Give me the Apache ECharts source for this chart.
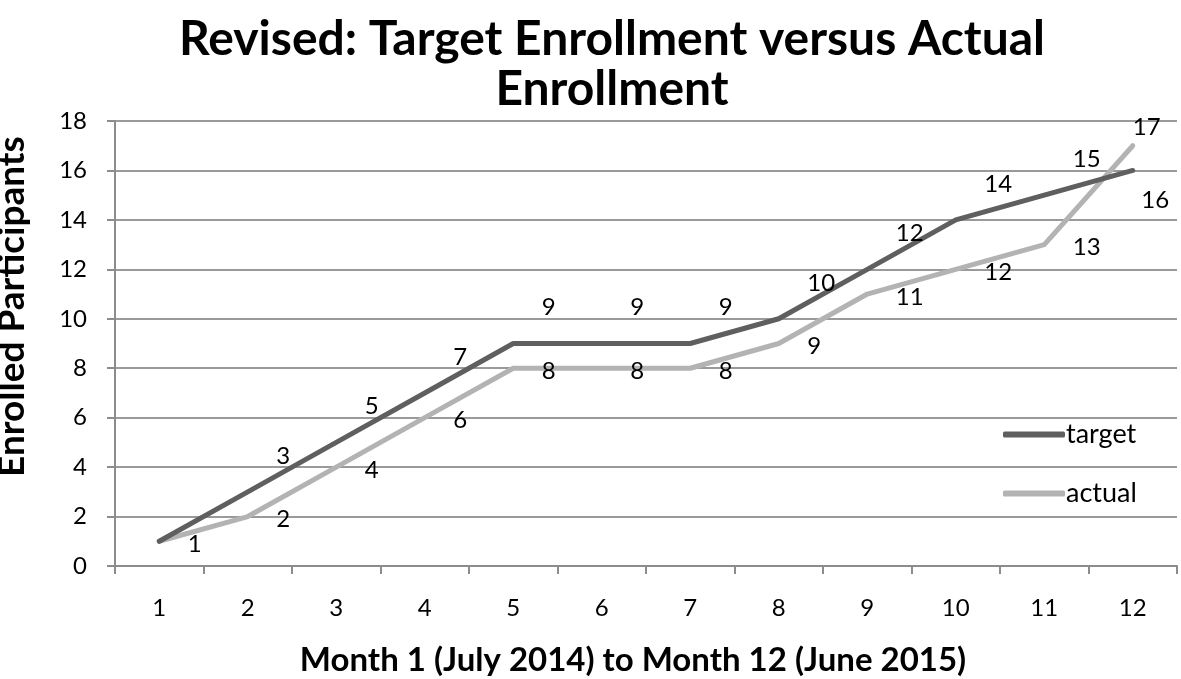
<!DOCTYPE html>
<html><head><meta charset="utf-8">
<script src="https://cdn.jsdelivr.net/npm/echarts@6/dist/echarts.min.js"></script>
<style>html,body{margin:0;padding:0;background:#fff}#c{width:1181px;height:679px}</style>
</head><body><div id="c"></div>
<script>
var titleText = 'Revised: Target Enrollment versus Actual\nEnrollment';
var xAxisName = 'Month 1 (July 2014) to Month 12 (June 2015)';
var yAxisName = 'Enrolled Participants';
var months = ['1','2','3','4','5','6','7','8','9','10','11','12'];
var target = [1,3,5,7,9,9,9,10,12,14,15,16];
var actual = [1,2,4,6,8,8,8,9,11,12,13,17];
var seriesNames = ['target','actual'];

var FONT = 'Lato, "Open Sans", sans-serif';

var targetData = target.map(function (v, i) {
  var d = {value: v};
  if (i === 0) d.label = {show: false};
  if (i === target.length - 1) d.label = {position: 'right', distance: 8, offset: [0, 30]};
  return d;
});
var actualData = actual.map(function (v, i) {
  var d = {value: v};
  if (i === actual.length - 1) d.label = {position: 'top', distance: 6, offset: [14, 0]};
  return d;
});

var chart = echarts.init(document.getElementById('c'));
chart.setOption({
  animation: false,
  backgroundColor: '#fff',
  title: {
    text: titleText, left: 607, textAlign: 'center', top: 10,
    textStyle: {fontFamily: FONT, fontWeight: 'bold', fontSize: 48, lineHeight: 50, color: '#000'}
  },
  grid: {left: 115, right: 4, top: 121, bottom: 113, outerBoundsMode: 'none', containLabel: false},
  legend: {
    orient: 'vertical', left: 998, top: 416, itemGap: 32,
    itemWidth: 62, itemHeight: 6, icon: 'roundRect',
    textStyle: {fontFamily: FONT, fontSize: 27, color: '#000', padding: [0, 0, 0, -4]},
    data: seriesNames
  },
  xAxis: {
    type: 'category', data: months, boundaryGap: true,
    name: xAxisName, nameLocation: 'middle', nameGap: 78,
    nameTextStyle: {fontFamily: FONT, fontWeight: 'bold', fontSize: 33, color: '#000', padding: [0, 26, 0, 0]},
    axisLine: {lineStyle: {color: '#8c8c8c', width: 2}},
    axisTick: {show: true, length: 8, lineStyle: {color: '#8c8c8c', width: 2}},
    axisLabel: {fontFamily: FONT, fontSize: 24, color: '#000', margin: 30}
  },
  yAxis: {
    type: 'value', min: 0, max: 18, interval: 2,
    name: yAxisName, nameLocation: 'middle', nameGap: 84,
    nameTextStyle: {fontFamily: FONT, fontWeight: 'bold', fontSize: 37, color: '#000', padding: [0, 0, 0, 74]},
    axisLine: {show: true, lineStyle: {color: '#8c8c8c', width: 2}},
    axisTick: {show: true, length: 8, lineStyle: {color: '#8c8c8c', width: 2}},
    axisLabel: {fontFamily: FONT, fontSize: 24, color: '#000', margin: 28},
    splitLine: {lineStyle: {color: '#9a9a9a', width: 2}}
  },
  series: [
    {
      name: seriesNames[0], type: 'line', data: targetData,
      symbol: 'circle', symbolSize: 1, showSymbol: true, z: 3,
      lineStyle: {color: '#5f5f5f', width: 5, cap: 'round', join: 'round'},
      itemStyle: {color: '#5f5f5f'},
      label: {show: true, position: 'right', distance: 28, offset: [0, -36],
        fontFamily: FONT, fontSize: 24, color: '#000'}
    },
    {
      name: seriesNames[1], type: 'line', data: actualData,
      symbol: 'circle', symbolSize: 1, showSymbol: true, z: 2,
      lineStyle: {color: '#b3b3b3', width: 5, cap: 'round', join: 'round'},
      itemStyle: {color: '#b3b3b3'},
      label: {show: true, position: 'right', distance: 28, offset: [0, 3],
        fontFamily: FONT, fontSize: 24, color: '#000'}
    }
  ]
});
</script></body></html>
